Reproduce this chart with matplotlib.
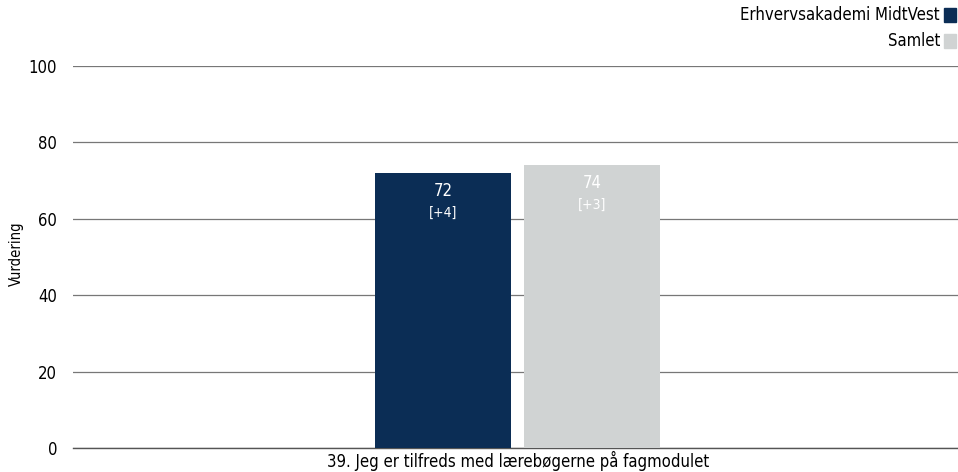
import matplotlib
matplotlib.use("Agg")
import matplotlib.pyplot as plt
from matplotlib.patches import Rectangle

categories = ["39. Jeg er tilfreds med lærebøgerne på fagmodulet"]
series_names = ["Erhvervsakademi MidtVest", "Samlet"]
values = [72, 74]
changes = ["[+4]", "[+3]"]
colors = ["#0b2d55", "#d0d3d3"]
yticks = [0, 20, 40, 60, 80, 100]

plt.rcParams['font.family'] = ['DejaVu Sans']
plt.rcParams['font.stretch'] = 'condensed'
fig = plt.figure(figsize=(9.58, 4.72), dpi=100)
ax = fig.add_axes([73/958, 24/472, 885/958, 382/472])

offsets = [-0.0819, 0.0864]
width = 0.1537
for i, (v, c, off, ch) in enumerate(zip(values, colors, offsets, changes)):
    ax.bar(off, v, width=width, color=c, zorder=3)
    ax.text(off, v - 4.7, str(v), ha='center', va='center', color='white', fontsize=12, zorder=4)
    ax.text(off, v - 10.4, ch, ha='center', va='center', color='white', fontsize=10, zorder=4)

ax.set_xlim(-0.5, 0.5)
ax.set_ylim(0, 100)
ax.set_yticks(yticks)
ax.set_yticklabels([str(t) for t in yticks], fontsize=12)
ax.set_xticks([0.0028])
ax.set_xticklabels(categories, fontsize=12)
ax.tick_params(axis='both', length=0)
ax.tick_params(axis='y', pad=11.5)
ax.tick_params(axis='x', pad=2)
ax.grid(axis='y', color='#777777', linewidth=0.9, zorder=1)
for s in ax.spines.values():
    s.set_visible(False)
ax.axhline(0, color='#555555', linewidth=1.0, zorder=2, clip_on=False)
ax.set_ylabel("Vurdering", fontsize=10.5)
ax.yaxis.set_label_coords((24 - 73) / 885, 0.509)

# legend at top right
leg_y = [15, 41]
for name, c, y in zip(series_names, colors, leg_y):
    fig.text(940/958, 1 - y/472, name, ha='right', va='center', fontsize=12)
    fig.patches.append(Rectangle((944/958, 1 - (y + 7)/472), 12/958, 14/472,
                                 transform=fig.transFigure, color=c, figure=fig))

fig.savefig("out.png", dpi=100)
